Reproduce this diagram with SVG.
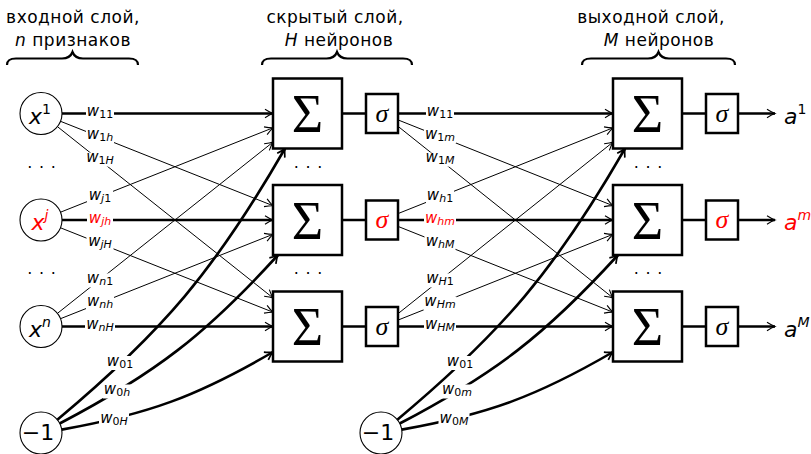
<svg xmlns="http://www.w3.org/2000/svg" width="811" height="454" viewBox="0 0 811 454">
<defs>
<style>
.thin{stroke:#000;stroke-width:1;fill:none}
.thick{stroke:#000;stroke-width:2.6;fill:none}
.crv{stroke:#000;stroke-width:2.6;fill:none}
.circ{fill:#fff;stroke:#000;stroke-width:1.1}
.box{fill:#fff;stroke:#000;stroke-width:2.5}
.brace{fill:none;stroke:#000;stroke-width:2.2}
.bg{fill:#fff}
.w{font-family:"DejaVu Sans",sans-serif;font-size:15px;font-style:italic;fill:#000}
.sub{font-size:11px}
.up{font-style:normal}
.var{font-family:"DejaVu Sans",sans-serif;font-size:22px;font-style:italic;fill:#000}
.sup{font-size:14px;font-style:normal}
.supi{font-size:14px;font-style:italic}
.sum{font-family:"Liberation Serif",serif;font-size:54px;fill:#000}
.sig{font-family:"Liberation Serif",serif;font-size:26px;font-style:italic;fill:#000}
.hd{font-family:"DejaVu Sans",sans-serif;font-size:17px;fill:#000;letter-spacing:0.5px}
.it{font-style:italic}
.dots{font-family:"DejaVu Sans",sans-serif;font-size:16px;fill:#000;letter-spacing:0.8px}
.m1{font-family:"DejaVu Sans",sans-serif;font-size:22px;fill:#000}
text.red{fill:#f00}
</style>
<marker id="ar" markerUnits="userSpaceOnUse" viewBox="-10 -6 12 12" refX="0" refY="0" markerWidth="12" markerHeight="12" orient="auto">
<path d="M-8,-4.2 Q-3,-1 0,0 Q-3,1 -8,4.2" fill="none" stroke="#000" stroke-width="1.1"/>
</marker>
<marker id="arb" markerUnits="userSpaceOnUse" viewBox="-10 -6 12 12" refX="0" refY="0" markerWidth="12" markerHeight="12" orient="auto">
<path d="M-8,-4.4 Q-3,-1 0,0 Q-3,1 -8,4.4" fill="none" stroke="#000" stroke-width="1.7"/>
</marker>
</defs>
<rect width="811" height="454" fill="#fff"/>

<!-- headers -->
<g id="hdr_in">
<text class="hd" x="73" y="22.5" text-anchor="middle">входной слой,</text>
<text class="hd" x="73" y="45.5" text-anchor="middle"><tspan class="it">n</tspan> признаков</text>
<path class="brace" d="M7,65 C7,60 10,58.5 16,58.5 L62,58.5 C68,58.5 71,56 72.5,52 C74,56 77,58.5 83,58.5 L129,58.5 C135,58.5 138,60 138,65"/>
</g>
<g id="hdr_hid">
<text class="hd" x="335" y="22.5" text-anchor="middle">скрытый слой,</text>
<text class="hd" x="339" y="45.5" text-anchor="middle"><tspan class="it">H</tspan> нейронов</text>
<path class="brace" d="M262,65 C262,60 265,58.5 271,58.5 L326.5,58.5 C332.5,58.5 335.5,56 337,52 C338.5,56 341.5,58.5 347.5,58.5 L403,58.5 C409,58.5 412,60 412,65"/>
</g>
<g id="hdr_out">
<text class="hd" x="651" y="22.5" text-anchor="middle">выходной слой,</text>
<text class="hd" x="659" y="45.5" text-anchor="middle"><tspan class="it">M</tspan> нейронов</text>
<path class="brace" d="M582,65 C582,60 585,58.5 591,58.5 L648,58.5 C654,58.5 657,56 658.5,52 C660,56 663,58.5 669,58.5 L726,58.5 C732,58.5 735,60 735,65"/>
</g>

<!-- connectors -->
<g id="connectors">
<path class="thick" marker-end="url(#ar)" d="M62,113.5 H273"/>
<path class="thin" marker-end="url(#ar)" d="M60.5,121.3 L273,205.7"/>
<path class="thin" marker-end="url(#ar)" d="M57.4,126.6 L273,297.9"/>
<path class="thin" marker-end="url(#ar)" d="M60.5,212.2 L273,127.8"/>
<path class="thick" marker-end="url(#ar)" d="M62,220 H273"/>
<path class="thin" marker-end="url(#ar)" d="M60.5,227.8 L273,312.2"/>
<path class="thin" marker-end="url(#ar)" d="M57.4,313.4 L273,142.1"/>
<path class="thin" marker-end="url(#ar)" d="M60.5,318.7 L273,234.3"/>
<path class="thick" marker-end="url(#ar)" d="M62,326.5 H273"/>

<path class="crv" marker-end="url(#arb)" d="M57.3,419.7 C163.2,331.2 215.7,268.9 285,148.5"/>
<path class="crv" marker-end="url(#arb)" d="M59.7,423.5 C155.3,373.4 205.3,334.8 278,255"/>
<path class="crv" marker-end="url(#arb)" d="M61.7,429.6 C148.4,414.1 196.8,396.3 273,352"/>

<path class="thick" d="M342,113.5 H366 M342,220 H366 M342,326.5 H366"/>

<path class="thick" marker-end="url(#ar)" d="M398,113.5 H613"/>
<path class="thin" marker-end="url(#ar)" d="M398,119.9 L613,205.7"/>
<path class="thin" marker-end="url(#ar)" d="M398,126.3 L613,297.9"/>
<path class="thin" marker-end="url(#ar)" d="M398,213.6 L613,127.8"/>
<path class="thick" marker-end="url(#ar)" d="M398,220 H613"/>
<path class="thin" marker-end="url(#ar)" d="M398,226.4 L613,312.2"/>
<path class="thin" marker-end="url(#ar)" d="M398,313.7 L613,142.1"/>
<path class="thin" marker-end="url(#ar)" d="M398,320.1 L613,234.3"/>
<path class="thick" marker-end="url(#ar)" d="M398,326.5 H613"/>

<path class="crv" marker-end="url(#arb)" d="M397.3,419.7 C503.2,331.2 555.7,268.9 625,148.5"/>
<path class="crv" marker-end="url(#arb)" d="M399.7,423.5 C495.3,373.4 545.3,334.8 618,255"/>
<path class="crv" marker-end="url(#arb)" d="M401.7,429.6 C488.4,414.1 536.8,396.3 613,352"/>

<path class="thick" d="M682,113.5 H706 M682,220 H706 M682,326.5 H706"/>
<path class="thick" marker-end="url(#ar)" d="M738,113.5 H775"/>
<path class="thick" marker-end="url(#ar)" d="M738,220 H775"/>
<path class="thick" marker-end="url(#ar)" d="M738,326.5 H775"/>
</g>

<!-- weight labels -->
<g id="weights">
<rect class="bg" x="86" y="106.5" width="28" height="14"/><text class="w" x="100" y="116" text-anchor="middle">w<tspan class="sub up" dy="2">11</tspan></text>
<rect class="bg" x="86" y="129.6" width="28" height="14"/><text class="w" x="100" y="139.1" text-anchor="middle">w<tspan class="sub up" dy="2">1</tspan><tspan class="sub">h</tspan></text>
<rect class="bg" x="85" y="152.6" width="30" height="14"/><text class="w" x="100" y="162.1" text-anchor="middle">w<tspan class="sub up" dy="2">1</tspan><tspan class="sub">H</tspan></text>
<rect class="bg" x="87" y="190" width="26" height="14"/><text class="w" x="100" y="199.5" text-anchor="middle">w<tspan class="sub" dy="2">j</tspan><tspan class="sub up">1</tspan></text>
<rect class="bg" x="87" y="213" width="26" height="14"/><text class="w red" x="100" y="222.5" text-anchor="middle">w<tspan class="sub" dy="2">jh</tspan></text>
<rect class="bg" x="86.5" y="236" width="27" height="14"/><text class="w" x="100" y="245.5" text-anchor="middle">w<tspan class="sub" dy="2">jH</tspan></text>
<rect class="bg" x="86" y="273.4" width="28" height="14"/><text class="w" x="100" y="282.9" text-anchor="middle">w<tspan class="sub" dy="2">n</tspan><tspan class="sub up">1</tspan></text>
<rect class="bg" x="86" y="296.5" width="28" height="14"/><text class="w" x="100" y="306" text-anchor="middle">w<tspan class="sub" dy="2">nh</tspan></text>
<rect class="bg" x="85" y="319.5" width="30" height="14"/><text class="w" x="100" y="329" text-anchor="middle">w<tspan class="sub" dy="2">nH</tspan></text>

<rect class="bg" x="106" y="356" width="28" height="14"/><text class="w" x="120" y="365.5" text-anchor="middle">w<tspan class="sub up" dy="2">01</tspan></text>
<rect class="bg" x="103" y="384.5" width="28" height="14"/><text class="w" x="117" y="394" text-anchor="middle">w<tspan class="sub up" dy="2">0</tspan><tspan class="sub">h</tspan></text>
<rect class="bg" x="99" y="413" width="30" height="14"/><text class="w" x="114" y="422.5" text-anchor="middle">w<tspan class="sub up" dy="2">0</tspan><tspan class="sub">H</tspan></text>

<rect class="bg" x="426" y="106.5" width="28" height="14"/><text class="w" x="440" y="116" text-anchor="middle">w<tspan class="sub up" dy="2">11</tspan></text>
<rect class="bg" x="424" y="129.6" width="32" height="14"/><text class="w" x="440" y="139.1" text-anchor="middle">w<tspan class="sub up" dy="2">1</tspan><tspan class="sub">m</tspan></text>
<rect class="bg" x="424.5" y="152.6" width="31" height="14"/><text class="w" x="440" y="162.1" text-anchor="middle">w<tspan class="sub up" dy="2">1</tspan><tspan class="sub">M</tspan></text>
<rect class="bg" x="426" y="190" width="28" height="14"/><text class="w" x="440" y="199.5" text-anchor="middle">w<tspan class="sub" dy="2">h</tspan><tspan class="sub up">1</tspan></text>
<rect class="bg" x="424" y="213" width="32" height="14"/><text class="w red" x="440" y="222.5" text-anchor="middle">w<tspan class="sub" dy="2">hm</tspan></text>
<rect class="bg" x="424.5" y="236" width="31" height="14"/><text class="w" x="440" y="245.5" text-anchor="middle">w<tspan class="sub" dy="2">hM</tspan></text>
<rect class="bg" x="425" y="273.4" width="30" height="14"/><text class="w" x="440" y="282.9" text-anchor="middle">w<tspan class="sub" dy="2">H</tspan><tspan class="sub up">1</tspan></text>
<rect class="bg" x="423.5" y="296.5" width="33" height="14"/><text class="w" x="440" y="306" text-anchor="middle">w<tspan class="sub" dy="2">Hm</tspan></text>
<rect class="bg" x="424" y="319.5" width="32" height="14"/><text class="w" x="440" y="329" text-anchor="middle">w<tspan class="sub" dy="2">HM</tspan></text>

<rect class="bg" x="446" y="356" width="28" height="14"/><text class="w" x="460" y="365.5" text-anchor="middle">w<tspan class="sub up" dy="2">01</tspan></text>
<rect class="bg" x="441" y="384.5" width="32" height="14"/><text class="w" x="457" y="394" text-anchor="middle">w<tspan class="sub up" dy="2">0</tspan><tspan class="sub">m</tspan></text>
<rect class="bg" x="438.5" y="413" width="31" height="14"/><text class="w" x="454" y="422.5" text-anchor="middle">w<tspan class="sub up" dy="2">0</tspan><tspan class="sub">M</tspan></text>
</g>

<!-- input nodes -->
<g id="in_x1"><circle class="circ" cx="41" cy="113.5" r="21"/><text class="var" x="40" y="123.5" text-anchor="middle">x<tspan class="sup" dy="-10">1</tspan></text></g>
<g id="in_xj"><circle class="circ" cx="41" cy="220" r="21"/><text class="var red" x="40" y="230" text-anchor="middle">x<tspan class="supi" dy="-10">j</tspan></text></g>
<g id="in_xn"><circle class="circ" cx="41" cy="326.5" r="21"/><text class="var" x="40" y="336.5" text-anchor="middle">x<tspan class="supi" dy="-10">n</tspan></text></g>
<g id="bias_in"><circle class="circ" cx="41" cy="433" r="21"/><text class="m1" x="38" y="440" text-anchor="middle">−1</text></g>
<g id="dots_in"><text class="dots" x="42" y="168" text-anchor="middle">. . .</text><text class="dots" x="42" y="274" text-anchor="middle">. . .</text></g>

<!-- hidden layer -->
<g id="h_sum1"><rect class="box" x="273" y="78.5" width="69" height="70"/><text class="sum" x="307.5" y="132" text-anchor="middle">Σ</text></g>
<g id="h_sum2"><rect class="box" x="273" y="185" width="69" height="70"/><text class="sum" x="307.5" y="238.5" text-anchor="middle">Σ</text></g>
<g id="h_sum3"><rect class="box" x="273" y="291.5" width="69" height="70"/><text class="sum" x="307.5" y="345" text-anchor="middle">Σ</text></g>
<g id="h_sig1"><rect class="box" x="366" y="94" width="32" height="39"/><text class="sig" x="382" y="121.5" text-anchor="middle">σ</text></g>
<g id="h_sig2"><rect class="box" x="366" y="200.5" width="32" height="39"/><text class="sig red" x="382" y="228" text-anchor="middle">σ</text></g>
<g id="h_sig3"><rect class="box" x="366" y="307" width="32" height="39"/><text class="sig" x="382" y="334.5" text-anchor="middle">σ</text></g>
<g id="dots_h"><text class="dots" x="308.5" y="168" text-anchor="middle">. . .</text><text class="dots" x="308.5" y="274" text-anchor="middle">. . .</text></g>
<g id="bias_h"><circle class="circ" cx="381" cy="433" r="21"/><text class="m1" x="378" y="440" text-anchor="middle">−1</text></g>

<!-- output layer -->
<g id="o_sum1"><rect class="box" x="613" y="78.5" width="69" height="70"/><text class="sum" x="647.5" y="132" text-anchor="middle">Σ</text></g>
<g id="o_sum2"><rect class="box" x="613" y="185" width="69" height="70"/><text class="sum" x="647.5" y="238.5" text-anchor="middle">Σ</text></g>
<g id="o_sum3"><rect class="box" x="613" y="291.5" width="69" height="70"/><text class="sum" x="647.5" y="345" text-anchor="middle">Σ</text></g>
<g id="o_sig1"><rect class="box" x="706" y="94" width="32" height="39"/><text class="sig" x="722" y="121.5" text-anchor="middle">σ</text></g>
<g id="o_sig2"><rect class="box" x="706" y="200.5" width="32" height="39"/><text class="sig red" x="722" y="228" text-anchor="middle">σ</text></g>
<g id="o_sig3"><rect class="box" x="706" y="307" width="32" height="39"/><text class="sig" x="722" y="334.5" text-anchor="middle">σ</text></g>
<g id="dots_o"><text class="dots" x="648.5" y="168" text-anchor="middle">. . .</text><text class="dots" x="648.5" y="274" text-anchor="middle">. . .</text></g>

<g id="out_a1"><text class="var" x="784" y="123.5">a<tspan class="sup" dy="-10">1</tspan></text></g>
<g id="out_am"><text class="var red" x="784" y="230">a<tspan class="supi" dy="-10">m</tspan></text></g>
<g id="out_aM"><text class="var" x="784" y="336.5">a<tspan class="supi" dy="-10">M</tspan></text></g>
</svg>
